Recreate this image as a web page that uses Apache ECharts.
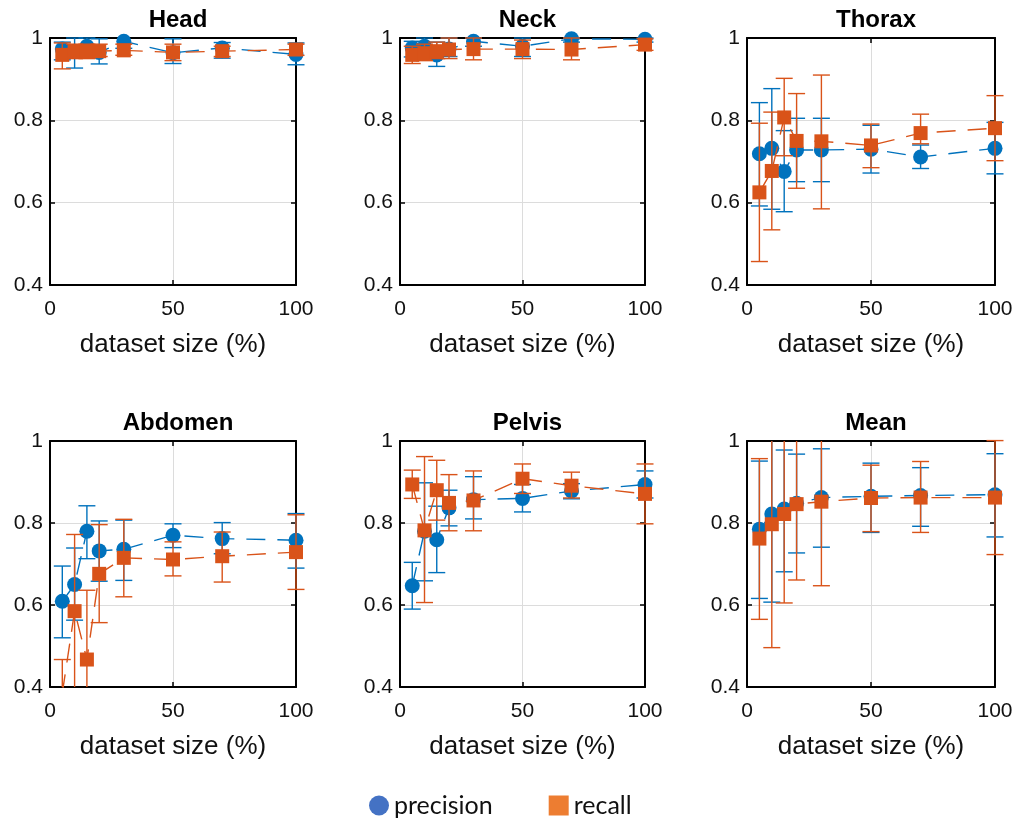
<!DOCTYPE html>
<html><head><meta charset="utf-8">
<script src="https://cdn.jsdelivr.net/npm/echarts@6/dist/echarts.min.js"></script>
<style>html,body{margin:0;padding:0;background:#fff}#c{width:1018px;height:819px}</style>
</head><body><div id="c"></div>
<script>
// ---------- data ----------
const sizes = [5, 10, 15, 20, 30, 50, 70, 100];
const xTicks = [0, 50, 100];
const yTicks = [0.4, 0.6, 0.8, 1];
const panelTitles = ['Head', 'Neck', 'Thorax', 'Abdomen', 'Pelvis', 'Mean'];
const xLabel = 'dataset size (%)';
const legendNames = ['precision', 'recall'];

const headPrec   = [0.973, 0.968, 0.980, 0.965, 0.992, 0.964, 0.976, 0.960];
const headPrecLo = [0.947, 0.927, 0.955, 0.937, 0.975, 0.938, 0.951, 0.935];
const headPrecHi = [0.990, 1.000, 1.000, 0.998, 1.005, 0.998, 0.989, 0.988];
const headRec    = [0.959, 0.968, 0.968, 0.968, 0.970, 0.965, 0.968, 0.972];
const headRecLo  = [0.925, 0.950, 0.950, 0.955, 0.958, 0.945, 0.955, 0.958];
const headRecHi  = [0.988, 0.985, 0.985, 0.985, 0.985, 0.985, 0.980, 0.985];

const neckPrec   = [0.976, 0.980, 0.959, 0.973, 0.992, 0.980, 0.998, 0.997];
const neckPrecLo = [0.954, 0.960, 0.931, 0.955, 0.980, 0.955, 0.990, 0.990];
const neckPrecHi = [0.992, 1.000, 0.990, 1.000, 1.000, 1.000, 1.000, 1.000];
const neckRec    = [0.959, 0.963, 0.968, 0.972, 0.973, 0.973, 0.972, 0.984];
const neckRecLo  = [0.938, 0.945, 0.950, 0.950, 0.947, 0.950, 0.947, 0.970];
const neckRecHi  = [0.980, 0.985, 0.990, 1.000, 1.000, 0.995, 1.000, 0.998];

const thoraxPrec   = [0.719, 0.732, 0.676, 0.728, 0.728, 0.730, 0.711, 0.732];
const thoraxPrecLo = [0.592, 0.584, 0.578, 0.651, 0.651, 0.672, 0.683, 0.670];
const thoraxPrecHi = [0.843, 0.877, 0.775, 0.805, 0.805, 0.788, 0.740, 0.795];
const thoraxRec    = [0.625, 0.677, 0.807, 0.750, 0.749, 0.739, 0.769, 0.781];
const thoraxRecLo  = [0.457, 0.534, 0.714, 0.635, 0.585, 0.685, 0.743, 0.702];
const thoraxRecHi  = [0.793, 0.820, 0.902, 0.865, 0.910, 0.791, 0.815, 0.860];

const abdomenPrec   = [0.609, 0.650, 0.780, 0.732, 0.736, 0.770, 0.762, 0.758];
const abdomenPrecLo = [0.520, 0.563, 0.713, 0.658, 0.660, 0.740, 0.725, 0.690];
const abdomenPrecHi = [0.695, 0.739, 0.842, 0.805, 0.807, 0.798, 0.801, 0.823];
const abdomenRec    = [0.385, 0.585, 0.467, 0.676, 0.715, 0.711, 0.719, 0.729];
const abdomenRecLo  = [0.300, 0.390, 0.298, 0.557, 0.620, 0.671, 0.656, 0.638];
const abdomenRecHi  = [0.467, 0.772, 0.636, 0.796, 0.809, 0.754, 0.778, 0.820];

const pelvisPrec   = [0.647, 0.780, 0.759, 0.837, 0.857, 0.860, 0.878, 0.894];
const pelvisPrecLo = [0.590, 0.659, 0.679, 0.793, 0.810, 0.827, 0.859, 0.861];
const pelvisPrecHi = [0.704, 0.898, 0.841, 0.880, 0.913, 0.894, 0.896, 0.927];
const pelvisRec    = [0.894, 0.782, 0.880, 0.849, 0.855, 0.908, 0.891, 0.871];
const pelvisRecLo  = [0.860, 0.606, 0.807, 0.781, 0.781, 0.872, 0.861, 0.798];
const pelvisRecHi  = [0.929, 0.962, 0.953, 0.918, 0.927, 0.944, 0.924, 0.944];

const meanPrec   = [0.785, 0.822, 0.834, 0.848, 0.862, 0.865, 0.867, 0.869];
const meanPrecLo = [0.616, 0.607, 0.681, 0.727, 0.741, 0.777, 0.792, 0.766];
const meanPrecHi = [0.951, 1.037, 0.978, 0.968, 0.981, 0.946, 0.935, 0.969];
const meanRec    = [0.762, 0.797, 0.822, 0.846, 0.852, 0.861, 0.862, 0.862];
const meanRecLo  = [0.565, 0.496, 0.605, 0.661, 0.647, 0.779, 0.777, 0.723];
const meanRecHi  = [0.957, 1.098, 1.039, 1.031, 1.057, 0.941, 0.950, 1.001];

// ---------- layout / style ----------
const panels = [
  [headPrec, headPrecLo, headPrecHi, headRec, headRecLo, headRecHi],
  [neckPrec, neckPrecLo, neckPrecHi, neckRec, neckRecLo, neckRecHi],
  [thoraxPrec, thoraxPrecLo, thoraxPrecHi, thoraxRec, thoraxRecLo, thoraxRecHi],
  [abdomenPrec, abdomenPrecLo, abdomenPrecHi, abdomenRec, abdomenRecLo, abdomenRecHi],
  [pelvisPrec, pelvisPrecLo, pelvisPrecHi, pelvisRec, pelvisRecLo, pelvisRecHi],
  [meanPrec, meanPrecLo, meanPrecHi, meanRec, meanRecLo, meanRecHi]
];
const rects = [
  {left: 50, top: 38, width: 246, height: 247},
  {left: 400, top: 38, width: 245, height: 247},
  {left: 747, top: 38, width: 248, height: 247},
  {left: 50, top: 441, width: 246, height: 246},
  {left: 400, top: 441, width: 245, height: 246},
  {left: 747, top: 441, width: 248, height: 246}
];
const BLUE = '#0072BD', ORANGE = '#D95319';
const FONT = "'Liberation Sans', Arial, sans-serif";

function errRender(color) {
  return function (params, api) {
    const cs = params.coordSys;
    const x = api.value(0), lo = api.value(1), hi = api.value(2);
    const pTop = api.coord([x, hi]), pBot = api.coord([x, lo]);
    const yMin = cs.y, yMax = cs.y + cs.height;
    const px = pTop[0];
    const y1 = Math.max(yMin, Math.min(yMax, pTop[1]));
    const y2 = Math.max(yMin, Math.min(yMax, pBot[1]));
    const hw = 8.5;
    const st = {stroke: color, lineWidth: 1.4};
    const ch = [];
    if (y2 > y1) ch.push({type: 'line', shape: {x1: px, y1: y1, x2: px, y2: y2}, style: st});
    if (pTop[1] >= yMin - 0.5 && pTop[1] <= yMax + 0.5) ch.push({type: 'line', shape: {x1: px - hw, y1: pTop[1], x2: px + hw, y2: pTop[1]}, style: st});
    if (pBot[1] >= yMin - 0.5 && pBot[1] <= yMax + 0.5) ch.push({type: 'line', shape: {x1: px - hw, y1: pBot[1], x2: px + hw, y2: pBot[1]}, style: st});
    return {type: 'group', children: ch};
  };
}

const grid = [], xAxis = [], yAxis = [], series = [], title = [];
const axisLineStyle = {show: true, onZero: false, lineStyle: {color: '#000', width: 2}};
const tickStyle = {show: true, inside: true, length: 5, lineStyle: {color: '#000', width: 1.5}};
const splitStyle = {show: true, lineStyle: {color: '#dcdcdc', width: 1}};

panels.forEach((p, i) => {
  const r = rects[i];
  grid.push({left: r.left, top: r.top, width: r.width, height: r.height, containLabel: false});
  title.push({
    text: panelTitles[i], left: r.left + r.width / 2, textAlign: 'center',
    top: r.top - 35,
    textStyle: {fontFamily: FONT, fontWeight: 'bold', fontSize: 24, color: '#000'}
  });
  const xmin = xTicks[0], xmax = xTicks[xTicks.length - 1], xint = xTicks[1] - xTicks[0];
  const ymin = yTicks[0], ymax = yTicks[yTicks.length - 1], yint = yTicks[1] - yTicks[0];
  xAxis.push({
    type: 'value', gridIndex: i, position: 'bottom', min: xmin, max: xmax, interval: xint,
    axisLine: axisLineStyle, axisTick: tickStyle, splitLine: splitStyle,
    axisLabel: {margin: 14, fontFamily: FONT, fontSize: 21, color: '#111'},
    name: xLabel, nameLocation: 'middle', nameGap: 47,
    nameTextStyle: {fontFamily: FONT, fontSize: 26, color: '#111'}
  });
  xAxis.push({
    type: 'value', gridIndex: i, position: 'top', min: xmin, max: xmax, interval: xint,
    axisLine: axisLineStyle, axisTick: tickStyle, splitLine: {show: false}, axisLabel: {show: false}
  });
  yAxis.push({
    type: 'value', gridIndex: i, position: 'left', min: ymin, max: ymax, interval: yint,
    axisLine: axisLineStyle, axisTick: tickStyle, splitLine: splitStyle,
    axisLabel: {margin: 7, fontFamily: FONT, fontSize: 21, color: '#111',
      formatter: v => (Math.abs(v - 1) < 1e-9 ? '1' : v.toFixed(1))}
  });
  yAxis.push({
    type: 'value', gridIndex: i, position: 'right', min: ymin, max: ymax, interval: yint,
    axisLine: axisLineStyle, axisTick: tickStyle, splitLine: {show: false}, axisLabel: {show: false}
  });
  const defs = [
    {name: legendNames[0], v: p[0], lo: p[1], hi: p[2], color: BLUE, symbol: 'circle', size: 15},
    {name: legendNames[1], v: p[3], lo: p[4], hi: p[5], color: ORANGE, symbol: 'rect', size: 14}
  ];
  defs.forEach((d, k) => {
    series.push({
      type: 'custom', name: d.name, xAxisIndex: 2 * i, yAxisIndex: 2 * i,
      data: sizes.map((x, j) => [x, d.lo[j], d.hi[j]]),
      encode: {x: 0, y: [1, 2]},
      renderItem: errRender(d.color), silent: true, z: 2 + k * 2, animation: false
    });
    series.push({
      type: 'line', name: d.name, xAxisIndex: 2 * i, yAxisIndex: 2 * i,
      data: sizes.map((x, j) => [x, d.v[j]]),
      symbol: d.symbol, symbolSize: d.size, showSymbol: true, clip: true,
      itemStyle: {color: d.color, borderWidth: 0},
      lineStyle: {color: d.color, width: 1.4, type: [19, 12]},
      emphasis: {disabled: true}, silent: true, z: 3 + k * 2, animation: false
    });
  });
});

const chart = echarts.init(document.getElementById('c'), null, {renderer: 'canvas'});
chart.setOption({
  backgroundColor: '#fff',
  animation: false,
  title: title,
  grid: grid,
  xAxis: xAxis,
  yAxis: yAxis,
  legend: {
    left: 369, top: 793, padding: 0, itemWidth: 20, itemHeight: 20, itemGap: 56,
    textStyle: {fontFamily: "Lato, 'Noto Sans', sans-serif", fontSize: 25, color: '#111'},
    data: [
      {name: legendNames[0], icon: 'circle', itemStyle: {color: '#4472C4'}},
      {name: legendNames[1], icon: 'rect', itemStyle: {color: '#ED7D31'}}
    ]
  },
  series: series
});
</script>
</body></html>
